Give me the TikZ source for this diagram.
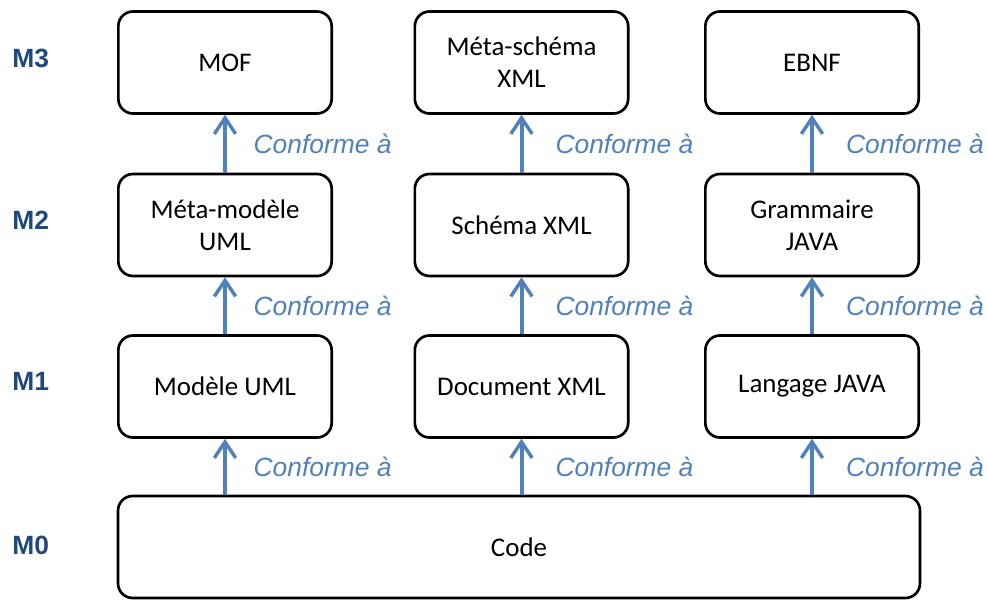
\documentclass[tikz,border=0pt]{standalone}
\usepackage{fontspec}
\setmainfont{Carlito}
\newfontfamily\arialfont{Liberation Sans}
\usetikzlibrary{arrows.meta,positioning}
\definecolor{lvl}{RGB}{31,73,125}
\definecolor{conf}{RGB}{79,129,189}
\definecolor{ink}{RGB}{0,0,0}

\begin{document}
\begin{tikzpicture}[
  x=0.75pt, y=-0.75pt,
  font=\fontsize{20.2}{24}\selectfont, ink,
  box/.style={rounded corners=11pt, draw=black, line width=2pt, fill=white,
              minimum width=160pt, minimum height=76.5pt, align=center, inner sep=2pt},
  level/.style={anchor=west, lvl, inner sep=0pt, font=\arialfont\bfseries\fontsize{19.8}{22}\selectfont},
  flow/.style={-{Straight Barb[length=12pt, width=16pt, line width=2.6pt]}, line width=3pt, conf},
  conflbl/.style={anchor=west, xshift=#1, inner sep=0pt, conf,
                  font=\arialfont\itshape\fontsize{19.8}{22}\selectfont},
  conflbl/.default=20pt,
]
\useasboundingbox (0,0) rectangle (987,599);

%% ---- level labels ----
\node[level] (m3) at (12,58) {M3};
\node[level] (m2) at (12,220) {M2};
\node[level] (m1) at (12,381) {M1};
\node[level] (m0) at (12,545) {M0};

%% ---- M3 ----
\node[box] (mof) at (225,62.5) {MOF};
\node[box] (xmlmeta) at (521.5,62.5) {Méta-schéma\\XML};
\node[box] (ebnf) at (812,62.5) {EBNF};

%% ---- M2 ----
\node[box] (umlmeta) at (225,225) {Méta-modèle\\UML};
\node[box] (xmlschema) at (521.5,225) {Schéma XML};
\node[box] (javagram) at (812,225) {Grammaire\\JAVA};

%% ---- M1 ----
\node[box] (umlmodel) at (225,386.5) {Modèle UML};
\node[box] (xmldoc) at (521.5,386.5) {Document XML};
\node[box] (javalang) at (812,386.5) {Langage JAVA};

%% ---- M0 ----
\node[box, minimum width=601.5pt] (code) at (519,547) {Code};

%% ---- conformance arrows ----
\draw[flow] (umlmeta) -- (mof) node[conflbl, midway] (c31) {Conforme à};
\draw[flow] (xmlschema) -- (xmlmeta) node[conflbl=24pt, midway] (c32) {Conforme à};
\draw[flow] (javagram) -- (ebnf) node[conflbl=24pt, midway] (c33) {Conforme à};

\draw[flow] (umlmodel) -- (umlmeta) node[conflbl, midway] (c21) {Conforme à};
\draw[flow] (xmldoc) -- (xmlschema) node[conflbl=24pt, midway] (c22) {Conforme à};
\draw[flow] (javalang) -- (javagram) node[conflbl=24pt, midway] (c23) {Conforme à};

\draw[flow] (code.north -| umlmodel) -- (umlmodel) node[conflbl, midway] (c11) {Conforme à};
\draw[flow] (code.north -| xmldoc) -- (xmldoc) node[conflbl=24pt, midway] (c12) {Conforme à};
\draw[flow] (code.north -| javalang) -- (javalang) node[conflbl=24pt, midway] (c13) {Conforme à};

\end{tikzpicture}
\end{document}
